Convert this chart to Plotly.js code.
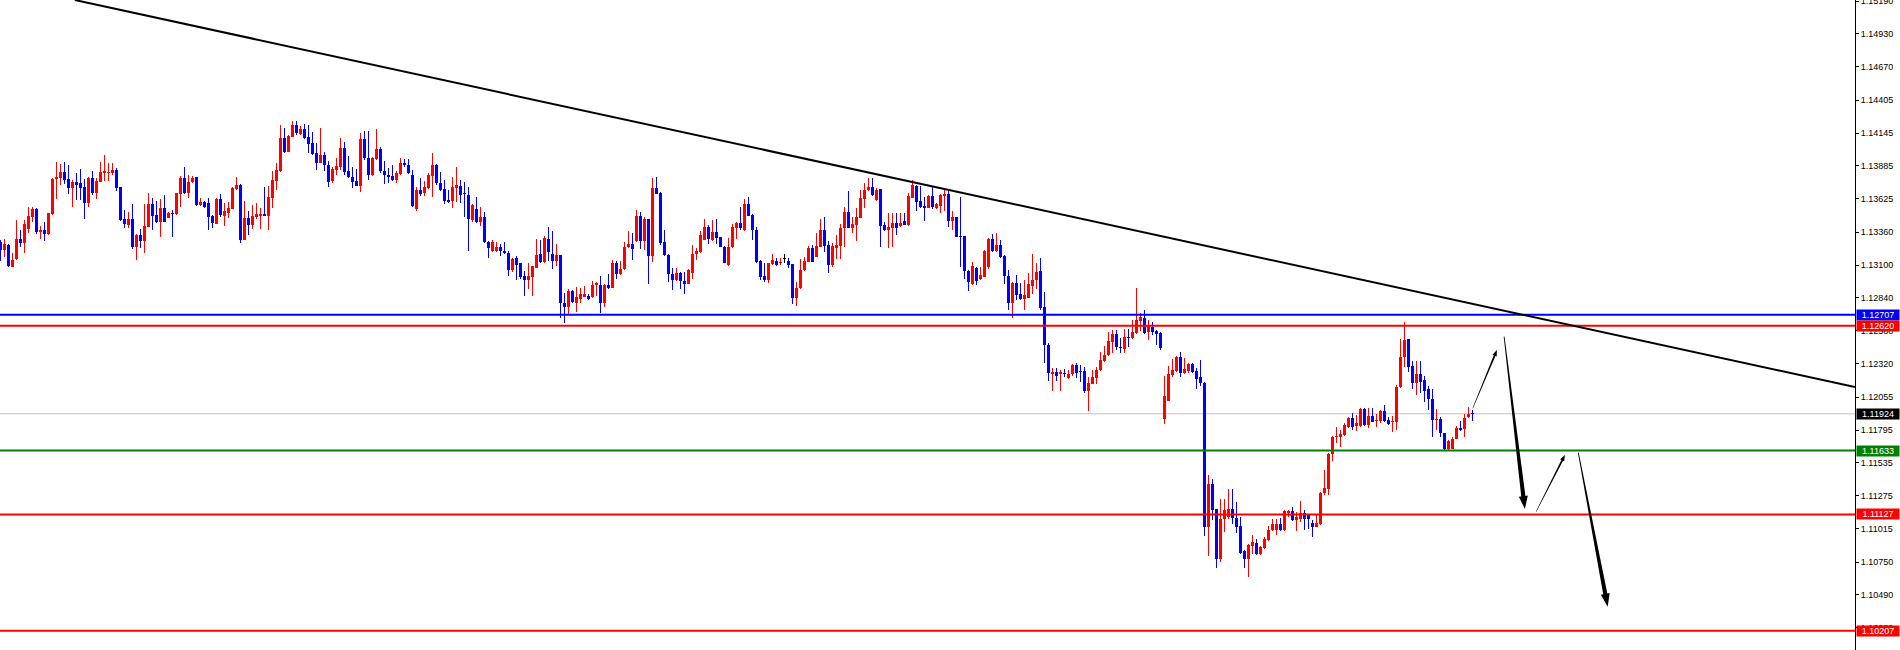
<!DOCTYPE html>
<html>
<head>
<meta charset="utf-8">
<script src="https://cdn.plot.ly/plotly-3.0.1.min.js"></script>
<style>
html,body{margin:0;padding:0;background:#ffffff;}
#chart{width:1900px;height:650px;}
</style>
</head>
<body>
<div id="chart"></div>
<script>
// ---- candle data (one candle per bar, oldest first) ----
const openP = [
1.13285,1.13219,1.13259,1.13087,1.13148,1.13306,1.13277,1.13383,1.13478,1.13544,
1.13364,1.13377,1.13346,1.13502,1.13779,1.13787,1.13837,1.13781,1.13713,1.13758,
1.13750,1.13718,1.13594,1.13789,1.13673,1.13760,1.13829,1.13826,1.13829,1.13853,
1.13718,1.13465,1.13420,1.13465,1.13245,1.13338,1.13293,1.13404,1.13586,1.13496,
1.13441,1.13552,1.13475,1.13512,1.13504,1.13665,1.13792,1.13673,1.13755,1.13795,
1.13578,1.13599,1.13594,1.13488,1.13428,1.13623,1.13491,1.13509,1.13546,1.13702,
1.13734,1.13298,1.13475,1.13414,1.13478,1.13488,1.13504,1.13488,1.13634,1.13768,
1.13847,1.14106,1.13998,1.14117,1.14209,1.14140,1.14177,1.14114,1.14069,1.13990,
1.13911,1.13971,1.13892,1.13766,1.13853,1.13879,1.14027,1.13845,1.13797,1.13766,
1.13729,1.14098,1.13945,1.13816,1.13940,1.14019,1.13845,1.13813,1.13805,1.13773,
1.13821,1.13910,1.13889,1.13813,1.13541,1.13694,1.13667,1.13712,1.13807,1.13892,
1.13747,1.13699,1.13615,1.13607,1.13712,1.13728,1.13667,1.13654,1.13456,1.13543,
1.13443,1.13483,1.13285,1.13211,1.13211,1.13245,1.13211,1.13200,1.13060,1.13153,
1.13113,1.13015,1.12986,1.13007,1.13081,1.13187,1.13121,1.13303,1.13192,1.13134,
1.13179,1.12804,1.12770,1.12894,1.12804,1.12836,1.12849,1.12857,1.12844,1.12939,
1.12941,1.12802,1.12944,1.12920,1.13118,1.13029,1.13066,1.13240,1.13271,1.13290,
1.13488,1.13290,1.13462,1.13171,1.13707,1.13667,1.13282,1.13184,1.13026,1.12981,
1.13034,1.12973,1.12952,1.13039,1.13192,1.13205,1.13298,1.13403,1.13298,1.13364,
1.13319,1.13245,1.13105,1.13240,1.13390,1.13435,1.13377,1.13583,1.13496,1.13377,
1.13132,1.13015,1.12986,1.13108,1.13132,1.13113,1.13150,1.13132,1.13106,1.12842,
1.12916,1.13061,1.13127,1.13238,1.13167,1.13246,1.13378,1.13259,1.13101,1.13238,
1.13254,1.13391,1.13523,1.13396,1.13417,1.13476,1.13623,1.13695,1.13721,1.13615,
1.13700,1.13417,1.13378,1.13396,1.13436,1.13412,1.13449,1.13417,1.13634,1.13729,
1.13608,1.13568,1.13555,1.13650,1.13555,1.13568,1.13650,1.13663,1.13452,1.13481,
1.13328,1.13330,1.13056,1.12948,1.13080,1.12990,1.13008,1.13082,1.13307,1.13212,
1.13259,1.13172,1.13014,1.12802,1.12961,1.12871,1.12829,1.12842,1.12937,1.12982,
1.13056,1.12771,1.12472,1.12237,1.12256,1.12237,1.12248,1.12203,1.12235,1.12309,
1.12258,1.12261,1.12105,1.12163,1.12203,1.12269,1.12343,1.12388,1.12493,1.12552,
1.12451,1.12435,1.12530,1.12520,1.12565,1.12660,1.12684,1.12573,1.12612,1.12581,
1.12565,1.11881,1.12026,1.12230,1.12265,1.12376,1.12244,1.12265,1.12318,1.12262,
1.12217,1.12169,1.11029,1.11367,1.11169,1.10773,1.11090,1.11108,1.11174,1.11100,
1.11034,1.10839,1.10773,1.10876,1.10905,1.10812,1.10863,1.10923,1.11002,1.11002,
1.11050,1.11002,1.11142,1.11156,1.11082,1.11090,1.11140,1.11132,1.11061,1.11029,
1.11050,1.11293,1.11332,1.11602,1.11742,1.11742,1.11755,1.11821,1.11887,1.11826,
1.11829,1.11958,1.11834,1.11905,1.11868,1.11868,1.11948,1.11874,1.11858,1.11860,
1.12132,1.12370,1.12513,1.12301,1.12164,1.12238,1.12190,1.12117,1.12040,1.11874,
1.11882,1.11768,1.11649,1.11649,1.11728,1.11808,1.11800,1.11900,1.11928
];
const highP = [
1.13298,1.13306,1.13264,1.13198,1.13457,1.13377,1.13457,1.13557,1.13562,1.13552,
1.13409,1.13441,1.13515,1.13787,1.13916,1.13903,1.13913,1.13895,1.13771,1.13826,
1.13861,1.13784,1.13800,1.13845,1.13787,1.13919,1.13971,1.13905,1.13905,1.13868,
1.13718,1.13536,1.13520,1.13583,1.13346,1.13388,1.13581,1.13668,1.13631,1.13604,
1.13626,1.13655,1.13517,1.13536,1.13673,1.13802,1.13879,1.13813,1.13808,1.13800,
1.13631,1.13604,1.13634,1.13496,1.13631,1.13660,1.13594,1.13602,1.13715,1.13797,
1.13739,1.13607,1.13530,1.13573,1.13591,1.13549,1.13721,1.13726,1.13845,1.13911,
1.14209,1.14185,1.14127,1.14241,1.14241,1.14198,1.14214,1.14209,1.14154,1.14064,
1.14185,1.13993,1.13924,1.13879,1.13945,1.14109,1.14074,1.13964,1.13879,1.13861,
1.14143,1.14162,1.14162,1.13956,1.14177,1.14037,1.13924,1.13868,1.13890,1.13845,
1.13945,1.13942,1.13937,1.13852,1.13715,1.13786,1.13768,1.13826,1.13990,1.13897,
1.13839,1.13773,1.13694,1.13799,1.13879,1.13773,1.13760,1.13720,1.13583,1.13641,
1.13562,1.13522,1.13290,1.13298,1.13285,1.13271,1.13285,1.13211,1.13153,1.13174,
1.13118,1.13052,1.13113,1.13095,1.13303,1.13298,1.13332,1.13398,1.13369,1.13271,
1.13184,1.12883,1.12910,1.12907,1.12928,1.12923,1.12934,1.12875,1.12976,1.12968,
1.13015,1.12947,1.13026,1.13139,1.13132,1.13132,1.13282,1.13369,1.13351,1.13535,
1.13522,1.13477,1.13469,1.13792,1.13799,1.13681,1.13377,1.13190,1.13079,1.13079,
1.13047,1.13047,1.13066,1.13258,1.13232,1.13369,1.13462,1.13414,1.13456,1.13462,
1.13324,1.13250,1.13316,1.13422,1.13443,1.13562,1.13623,1.13641,1.13504,1.13403,
1.13139,1.13113,1.13118,1.13192,1.13153,1.13153,1.13187,1.13153,1.13111,1.12969,
1.13146,1.13161,1.13254,1.13259,1.13351,1.13465,1.13483,1.13291,1.13272,1.13338,
1.13423,1.13563,1.13687,1.13483,1.13549,1.13695,1.13753,1.13787,1.13787,1.13708,
1.13703,1.13444,1.13510,1.13510,1.13510,1.13510,1.13510,1.13668,1.13774,1.13734,
1.13726,1.13642,1.13655,1.13721,1.13589,1.13660,1.13695,1.13703,1.13528,1.13483,
1.13642,1.13330,1.13061,1.13127,1.13087,1.13087,1.13219,1.13312,1.13344,1.13357,
1.13299,1.13180,1.13061,1.12966,1.13021,1.12955,1.12982,1.13035,1.13185,1.13114,
1.13153,1.12884,1.12480,1.12290,1.12290,1.12274,1.12282,1.12269,1.12317,1.12322,
1.12309,1.12295,1.12211,1.12269,1.12295,1.12414,1.12459,1.12573,1.12586,1.12586,
1.12520,1.12591,1.12591,1.12665,1.12921,1.12718,1.12744,1.12665,1.12647,1.12586,
1.12567,1.12222,1.12301,1.12355,1.12381,1.12415,1.12362,1.12323,1.12323,1.12283,
1.12349,1.12177,1.11438,1.11406,1.11174,1.11253,1.11253,1.11332,1.11327,1.11227,
1.11108,1.10844,1.10897,1.10963,1.10929,1.10876,1.10950,1.11034,1.11095,1.11095,
1.11103,1.11161,1.11161,1.11187,1.11148,1.11232,1.11161,1.11134,1.11082,1.11121,
1.11306,1.11478,1.11610,1.11747,1.11821,1.11794,1.11847,1.11900,1.11932,1.11913,
1.11966,1.11966,1.11966,1.11966,1.11919,1.11953,1.11992,1.11895,1.11905,1.12151,
1.12513,1.12652,1.12515,1.12341,1.12341,1.12341,1.12222,1.12143,1.12117,1.11958,
1.11895,1.11773,1.11715,1.11742,1.11826,1.11866,1.11919,1.11979,1.11953
];
const lowP = [
1.13132,1.13166,1.13087,1.13087,1.13142,1.13243,1.13198,1.13351,1.13443,1.13346,
1.13309,1.13293,1.13340,1.13496,1.13620,1.13736,1.13742,1.13665,1.13562,1.13618,
1.13618,1.13462,1.13562,1.13655,1.13626,1.13758,1.13768,1.13768,1.13816,1.13689,
1.13451,1.13396,1.13396,1.13230,1.13142,1.13237,1.13195,1.13398,1.13380,1.13435,
1.13325,1.13441,1.13472,1.13319,1.13496,1.13562,1.13665,1.13634,1.13750,1.13568,
1.13568,1.13552,1.13380,1.13396,1.13425,1.13478,1.13412,1.13475,1.13544,1.13697,
1.13277,1.13296,1.13338,1.13385,1.13462,1.13385,1.13488,1.13380,1.13554,1.13694,
1.13834,1.13985,1.13993,1.14114,1.14132,1.14132,1.14101,1.13990,1.13971,1.13853,
1.13905,1.13847,1.13721,1.13747,1.13813,1.13853,1.13813,1.13792,1.13713,1.13726,
1.13681,1.13932,1.13771,1.13808,1.13932,1.13826,1.13744,1.13747,1.13768,1.13750,
1.13813,1.13873,1.13821,1.13557,1.13530,1.13649,1.13649,1.13704,1.13641,1.13733,
1.13686,1.13583,1.13594,1.13554,1.13596,1.13588,1.13483,1.13213,1.13443,1.13430,
1.13411,1.13277,1.13158,1.13205,1.13203,1.13171,1.13192,1.13015,1.13047,1.12981,
1.12994,1.12857,1.12915,1.12857,1.13079,1.13113,1.13113,1.13132,1.13066,1.13092,
1.12683,1.12643,1.12712,1.12804,1.12730,1.12802,1.12844,1.12828,1.12841,1.12857,
1.12722,1.12770,1.12915,1.12918,1.12994,1.13023,1.13060,1.13232,1.13139,1.13285,
1.13227,1.13219,1.12949,1.13126,1.13660,1.13258,1.13174,1.12968,1.12907,1.12976,
1.12915,1.12873,1.12949,1.12994,1.13139,1.13200,1.13295,1.13271,1.13293,1.13266,
1.13242,1.13113,1.13092,1.13237,1.13306,1.13377,1.13374,1.13488,1.13298,1.13113,
1.12981,1.12963,1.12955,1.13105,1.13097,1.13105,1.13118,1.13079,1.12792,1.12776,
1.12911,1.13056,1.13122,1.13122,1.13161,1.13241,1.13206,1.13040,1.13087,1.13148,
1.13148,1.13246,1.13391,1.13351,1.13293,1.13470,1.13555,1.13689,1.13650,1.13610,
1.13246,1.13370,1.13238,1.13246,1.13338,1.13399,1.13415,1.13410,1.13629,1.13531,
1.13555,1.13452,1.13549,1.13544,1.13542,1.13515,1.13531,1.13399,1.13378,1.13322,
1.13087,1.12990,1.12897,1.12942,1.12942,1.12982,1.13003,1.13069,1.13206,1.13206,
1.13153,1.12950,1.12744,1.12684,1.12823,1.12823,1.12744,1.12837,1.12868,1.12908,
1.12744,1.12322,1.12185,1.12105,1.12185,1.12105,1.12216,1.12198,1.12222,1.12203,
1.12177,1.12090,1.11947,1.12158,1.12163,1.12261,1.12335,1.12383,1.12406,1.12427,
1.12406,1.12406,1.12454,1.12515,1.12559,1.12578,1.12559,1.12507,1.12546,1.12467,
1.12427,1.11841,1.12024,1.12217,1.12257,1.12212,1.12238,1.12244,1.12249,1.12120,
1.12146,1.10955,1.10797,1.11087,1.10707,1.10752,1.10989,1.11090,1.11055,1.10981,
1.10812,1.10707,1.10633,1.10818,1.10805,1.10805,1.10857,1.10918,1.10997,1.10963,
1.10997,1.10997,1.11108,1.11076,1.10997,1.11068,1.11008,1.11016,1.10950,1.11024,
1.11042,1.11280,1.11285,1.11549,1.11689,1.11662,1.11750,1.11813,1.11794,1.11787,
1.11821,1.11826,1.11808,1.11855,1.11816,1.11847,1.11860,1.11837,1.11781,1.11794,
1.12124,1.12296,1.12256,1.12117,1.12072,1.12090,1.12019,1.11953,1.11742,1.11794,
1.11742,1.11636,1.11636,1.11644,1.11723,1.11787,1.11742,1.11887,1.11868
];
const closeP = [
1.13219,1.13267,1.13092,1.13140,1.13306,1.13277,1.13425,1.13488,1.13546,1.13359,
1.13377,1.13348,1.13509,1.13781,1.13795,1.13837,1.13776,1.13713,1.13758,1.13736,
1.13713,1.13594,1.13792,1.13673,1.13768,1.13837,1.13845,1.13837,1.13855,1.13713,
1.13459,1.13422,1.13465,1.13245,1.13340,1.13293,1.13409,1.13586,1.13491,1.13443,
1.13554,1.13443,1.13515,1.13502,1.13673,1.13792,1.13673,1.13760,1.13792,1.13578,
1.13599,1.13562,1.13483,1.13430,1.13623,1.13499,1.13530,1.13549,1.13710,1.13734,
1.13298,1.13475,1.13420,1.13491,1.13502,1.13507,1.13491,1.13639,1.13773,1.13853,
1.14109,1.13993,1.14122,1.14209,1.14143,1.14177,1.14109,1.14061,1.13977,1.13911,
1.13971,1.13890,1.13760,1.13861,1.13884,1.14024,1.13839,1.13795,1.13760,1.13729,
1.14098,1.13950,1.13816,1.13948,1.14019,1.13847,1.13810,1.13797,1.13771,1.13829,
1.13908,1.13889,1.13831,1.13567,1.13694,1.13662,1.13715,1.13813,1.13892,1.13747,
1.13694,1.13607,1.13601,1.13715,1.13733,1.13654,1.13660,1.13464,1.13575,1.13438,
1.13483,1.13285,1.13237,1.13285,1.13245,1.13211,1.13200,1.13060,1.13145,1.13100,
1.13007,1.12984,1.13015,1.13092,1.13184,1.13126,1.13316,1.13205,1.13134,1.13179,
1.12802,1.12770,1.12894,1.12809,1.12849,1.12870,1.12870,1.12836,1.12941,1.12955,
1.12802,1.12941,1.12918,1.13113,1.13029,1.13071,1.13245,1.13271,1.13229,1.13488,
1.13290,1.13462,1.13171,1.13707,1.13662,1.13279,1.13184,1.13026,1.12981,1.13034,
1.12976,1.12949,1.13060,1.13192,1.13213,1.13335,1.13403,1.13303,1.13364,1.13316,
1.13245,1.13118,1.13240,1.13403,1.13430,1.13393,1.13583,1.13491,1.13377,1.13126,
1.13007,1.12986,1.13113,1.13139,1.13100,1.13121,1.13150,1.13100,1.12842,1.12916,
1.13061,1.13135,1.13233,1.13127,1.13251,1.13378,1.13251,1.13101,1.13254,1.13259,
1.13396,1.13523,1.13396,1.13423,1.13483,1.13629,1.13695,1.13721,1.13655,1.13695,
1.13410,1.13378,1.13399,1.13436,1.13396,1.13436,1.13417,1.13647,1.13734,1.13602,
1.13563,1.13555,1.13650,1.13563,1.13584,1.13655,1.13663,1.13452,1.13481,1.13325,
1.13322,1.13056,1.12969,1.13093,1.12977,1.13021,1.13212,1.13307,1.13212,1.13259,
1.13161,1.13014,1.12802,1.12961,1.12863,1.12829,1.12863,1.12950,1.12982,1.13048,
1.12763,1.12467,1.12243,1.12256,1.12222,1.12256,1.12237,1.12237,1.12309,1.12248,
1.12253,1.12103,1.12171,1.12211,1.12269,1.12348,1.12388,1.12499,1.12552,1.12449,
1.12446,1.12533,1.12525,1.12567,1.12665,1.12691,1.12565,1.12625,1.12573,1.12559,
1.12441,1.12063,1.12237,1.12270,1.12376,1.12244,1.12278,1.12318,1.12257,1.12199,
1.12164,1.11029,1.11367,1.11166,1.10773,1.11095,1.11166,1.11174,1.11100,1.11029,
1.10823,1.10773,1.10884,1.10910,1.10812,1.10870,1.10929,1.11002,1.11055,1.11050,
1.11002,1.11156,1.11156,1.11082,1.11108,1.11140,1.11090,1.11090,1.11029,1.11061,
1.11298,1.11340,1.11604,1.11742,1.11747,1.11760,1.11834,1.11887,1.11821,1.11847,
1.11958,1.11834,1.11905,1.11860,1.11874,1.11948,1.11866,1.11842,1.11868,1.12132,
1.12370,1.12507,1.12296,1.12164,1.12238,1.12177,1.12106,1.12037,1.11874,1.11882,
1.11768,1.11649,1.11707,1.11728,1.11808,1.11794,1.11892,1.11919,1.11924
];

// ---- price scale ticks ----
const tickValues = [1.15190,1.14930,1.14670,1.14405,1.14145,1.13885,1.13625,1.13360,1.13100,
  1.12840,1.12580,1.12320,1.12055,1.11795,1.11535,1.11275,1.11015,1.10750,1.10490,1.10230];

// ---- horizontal levels ----
const levelPrices = [1.12707, 1.12620, 1.11633, 1.11127, 1.10207];
const levelColors = ['#0000FF', '#FF0000', '#008000', '#FF0000', '#FF0000'];
const bidPrice = 1.11924;

// ---- trend line (bar index, price) ----
const trendX = [18.6, 463.6];
const trendY = [1.15198, 1.12136];

// ---- projection arrows (bar index, price) ----
const arrowFromX = [368.1, 375.9, 383.9, 394.45];
const arrowFromY = [1.11970, 1.12534, 1.11149, 1.11616];
const arrowToX   = [374.1, 381.1, 391.1, 401.8];
const arrowToY   = [1.12428, 1.11170, 1.11598, 1.10397];
const arrowHeavy = [false, true, false, true];

// ---- view ----
const X0 = -0.125, X1 = 463.625;
const Y0 = 1.1005455, Y1 = 1.15198;
const PW = 1855, PH = 650;

const FONT = 'Liberation Sans, Arial, sans-serif';
const idx = openP.map((_, i) => i);
const colors = closeP.map((c, i) => c > openP[i] ? '#FF0000' : (c < openP[i] ? '#0000FF' : '#000000'));
const minBody = 0.00008;
const hi = highP.map((h, i) => Math.max(h, openP[i], closeP[i]));
const lo = lowP.map((l, i) => Math.min(l, openP[i], closeP[i]));
const bodyLen = closeP.map((c, i) => Math.max(Math.abs(c - openP[i]), minBody));
const bodyBase = closeP.map((c, i) => {
  const d = Math.abs(c - openP[i]);
  return Math.min(c, openP[i]) - (d < minBody ? (minBody - d) / 2 : 0);
});

const wicks = {
  type: 'bar', x: idx, base: lo, y: hi.map((h, i) => h - lo[i]),
  width: 0.25, marker: {color: colors, line: {width: 0}}, hoverinfo: 'skip', showlegend: false
};
const bodies = {
  type: 'bar', x: idx, base: bodyBase, y: bodyLen,
  width: 0.75, marker: {color: colors, line: {width: 0}}, hoverinfo: 'skip', showlegend: false
};

// helpers: data <-> pixel inside plot area
const pxX = x => (x - X0) / (X1 - X0) * PW;
const pxY = y => (Y1 - y) / (Y1 - Y0) * PH;
const dX = p => X0 + p / PW * (X1 - X0);
const dY = p => Y1 - p / PH * (Y1 - Y0);

function wedgePath(x0, y0, x1, y1, heavy) {
  const sx = pxX(x0), sy = pxY(y0), ex = pxX(x1), ey = pxY(y1);
  const len = Math.hypot(ex - sx, ey - sy);
  const ux = (ex - sx) / len, uy = (ey - sy) / len;
  const nx = -uy, ny = ux;
  const w0 = heavy ? 0.8 : 0.5, w1 = heavy ? 4.2 : 1.8;
  const hl = heavy ? 13 : 6, hw = heavy ? 9 : 4.5;
  const hx = ex - ux * hl, hy = ey - uy * hl;
  const pts = [
    [sx + nx * w0 / 2, sy + ny * w0 / 2],
    [hx + nx * w1 / 2, hy + ny * w1 / 2],
    [hx + nx * hw / 2, hy + ny * hw / 2],
    [ex, ey],
    [hx - nx * hw / 2, hy - ny * hw / 2],
    [hx - nx * w1 / 2, hy - ny * w1 / 2],
    [sx - nx * w0 / 2, sy - ny * w0 / 2]
  ];
  return pts.map((p, k) => (k === 0 ? 'M' : 'L') + dX(p[0]).toFixed(4) + ',' + dY(p[1]).toFixed(6)).join(' ') + ' Z';
}

const shapes = [];
shapes.push({type: 'line', xref: 'paper', yref: 'y', x0: 0, x1: 1, y0: bidPrice, y1: bidPrice,
  line: {color: '#C0C0C0', width: 1}, layer: 'below'});
levelPrices.forEach((p, k) => shapes.push({type: 'line', xref: 'paper', yref: 'y', x0: 0, x1: 1, y0: p, y1: p,
  line: {color: levelColors[k], width: 2}, layer: 'above'}));
shapes.push({type: 'line', xref: 'x', yref: 'y', x0: trendX[0], y0: trendY[0], x1: trendX[1], y1: trendY[1],
  line: {color: '#000000', width: 2}, layer: 'above'});
arrowFromX.forEach((_, k) => shapes.push({type: 'path', xref: 'x', yref: 'y',
  path: wedgePath(arrowFromX[k], arrowFromY[k], arrowToX[k], arrowToY[k], arrowHeavy[k]),
  fillcolor: '#000000', line: {width: 0}, layer: 'above'}));

const annotations = [];
const tagPrices = levelPrices.concat([bidPrice]);
const tagColors = levelColors.concat(['#000000']);
tagPrices.forEach((p, k) => annotations.push({
  xref: 'paper', x: 1, xanchor: 'left', xshift: 1, yref: 'y', y: p, yanchor: 'middle',
  text: p.toFixed(5), showarrow: false, bgcolor: tagColors[k], borderpad: 0,
  width: 42, height: 10, align: 'center',
  font: {family: FONT, size: 9, color: '#FFFFFF'}
}));

const layout = {
  width: 1900, height: 650,
  margin: {l: 0, r: 45, t: 0, b: 0, pad: 0},
  paper_bgcolor: '#FFFFFF', plot_bgcolor: '#FFFFFF',
  barmode: 'overlay', bargap: 0, showlegend: false, hovermode: false,
  xaxis: {range: [X0, X1], visible: false, fixedrange: true},
  yaxis: {
    range: [Y0, Y1], side: 'right', showgrid: false, zeroline: false,
    showline: true, linecolor: '#000000', linewidth: 1, mirror: false,
    ticks: 'outside', ticklen: 3, tickcolor: '#000000', tickwidth: 1,
    tickmode: 'array', tickvals: tickValues, ticktext: tickValues.map(v => v.toFixed(5)),
    ticklabeloverflow: 'allow',
    tickfont: {family: FONT, size: 9, color: '#000000'}, fixedrange: true
  },
  shapes: shapes,
  annotations: annotations
};

Plotly.newPlot('chart', [wicks, bodies], layout, {staticPlot: true, displayModeBar: false});
</script>
</body>
</html>
